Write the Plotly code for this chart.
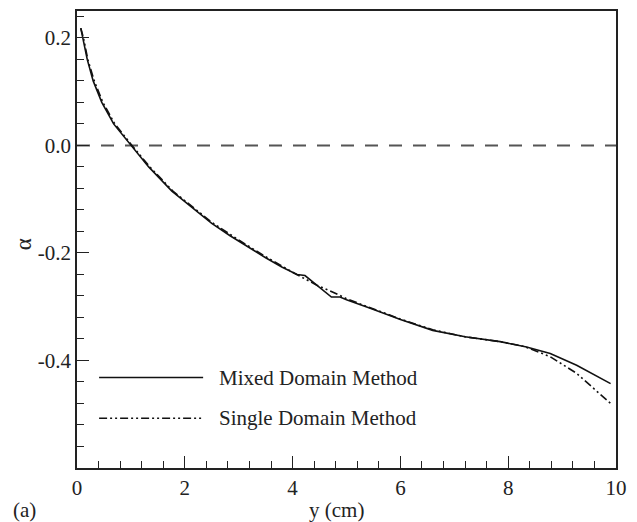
import plotly.graph_objects as go

# Distance across the channel (cm) and angle alpha for both solution methods
mixed_y = [0.07, 0.11, 0.19, 0.30, 0.46, 0.68, 1.0, 1.33, 1.76, 2.0, 2.28, 2.5, 2.84,
           3.0, 3.5, 3.8, 4.08, 4.23, 4.42, 4.72, 4.88, 5.0, 5.44, 6.0, 6.6, 7.2,
           7.85, 8.34, 8.78, 9.27, 9.9]
mixed_alpha = [0.218, 0.2, 0.16, 0.12, 0.08, 0.04, 0.0, -0.04, -0.085, -0.105, -0.128,
               -0.145, -0.168, -0.178, -0.209, -0.226, -0.240, -0.242, -0.257, -0.282,
               -0.282, -0.287, -0.303, -0.324, -0.344, -0.356, -0.365, -0.375, -0.387,
               -0.409, -0.443]

single_y = [0.07, 0.12, 0.2, 0.32, 0.48, 0.7, 1.02, 1.35, 1.78, 2.0, 2.5, 3.0, 3.5, 4.0,
            4.45, 4.75, 5.0, 5.44, 6.0, 6.6, 7.2, 7.85, 8.3, 8.78, 9.27, 9.9]
single_alpha = [0.218, 0.2, 0.16, 0.12, 0.08, 0.04, 0.0, -0.04, -0.085, -0.103, -0.143,
                -0.176, -0.207, -0.236, -0.260, -0.273, -0.285, -0.302, -0.323, -0.343,
                -0.356, -0.365, -0.374, -0.393, -0.424, -0.48]

x_ticks = [0, 2, 4, 6, 8, 10]
x_tick_text = ["0", "2", "4", "6", "8", "10"]
y_ticks = [0.2, 0.0, -0.2, -0.4]
y_tick_text = ["0.2", "0.0", "-0.2", "-0.4"]

series_names = ["Mixed Domain Method", "Single Domain Method"]

FONT = "Liberation Serif, 'Times New Roman', 'DejaVu Serif', serif"
INK = "#222222"
DASHDOT = "8px,3px,2px,3px,2px,3px"

fig = go.Figure()

# alpha = 0 reference line
fig.add_trace(go.Scatter(x=[0, 10], y=[0, 0], mode="lines",
                         line=dict(color="#555555", width=2, dash="13px,11px"),
                         showlegend=False, hoverinfo="skip"))

fig.add_trace(go.Scatter(x=mixed_y, y=mixed_alpha, mode="lines", name=series_names[0],
                         line=dict(color="#111111", width=1.6), showlegend=False))
fig.add_trace(go.Scatter(x=single_y, y=single_alpha, mode="lines", name=series_names[1],
                         line=dict(color="#111111", width=1.6, dash=DASHDOT),
                         showlegend=False))

# Hand-drawn key in the lower left of the plot area
key_x0, key_x1, key_tx = 0.041, 0.234, 0.26
key_rows = [(0.198, "solid"), (0.109, DASHDOT)]
for (ky, dash), label in zip(key_rows, series_names):
    fig.add_shape(type="line", xref="paper", yref="paper", x0=key_x0, x1=key_x1,
                  y0=ky, y1=ky, line=dict(color="#111111", width=1.5, dash=dash))
    fig.add_annotation(xref="paper", yref="paper", x=key_tx, y=ky, text=label,
                       showarrow=False, xanchor="left", yanchor="middle",
                       font=dict(family=FONT, size=21, color=INK))

# Axis titles and panel tag
fig.add_annotation(xref="paper", yref="paper", x=0.482, y=-0.092, text="y (cm)",
                   showarrow=False, xanchor="center", yanchor="middle",
                   font=dict(family=FONT, size=21, color=INK))
fig.add_annotation(xref="paper", yref="paper", x=-0.097, y=-0.092, text="(a)",
                   showarrow=False, xanchor="center", yanchor="middle",
                   font=dict(family=FONT, size=21, color=INK))
fig.add_annotation(xref="paper", yref="paper", x=-0.1, y=0.49, text="α",
                   textangle=-90, showarrow=False, xanchor="center", yanchor="middle",
                   font=dict(family=FONT, size=23, color=INK))

axis_common = dict(showgrid=False, zeroline=False, showline=True, mirror=True,
                   linecolor=INK, linewidth=1.5, ticks="inside", ticklen=12,
                   tickwidth=1.2, tickcolor=INK, tickmode="array",
                   tickfont=dict(family=FONT, size=21, color=INK))

fig.update_xaxes(range=[0, 10], tickvals=x_ticks, ticktext=x_tick_text,
                 minor=dict(tickmode="linear", tick0=0, dtick=0.4, ticks="inside",
                            ticklen=7, tickwidth=1.2, tickcolor=INK),
                 **axis_common)
fig.update_yaxes(range=[-0.6, 0.25], tickvals=y_ticks, ticktext=y_tick_text,
                 minor=dict(tickmode="linear", tick0=0, dtick=0.04, ticks="inside",
                            ticklen=7, tickwidth=1.2, tickcolor=INK),
                 **axis_common)

fig.update_layout(width=637, height=522, margin=dict(l=77, r=21, t=9, b=54),
                  paper_bgcolor="white", plot_bgcolor="white", showlegend=False)

fig.write_html("out.html")
